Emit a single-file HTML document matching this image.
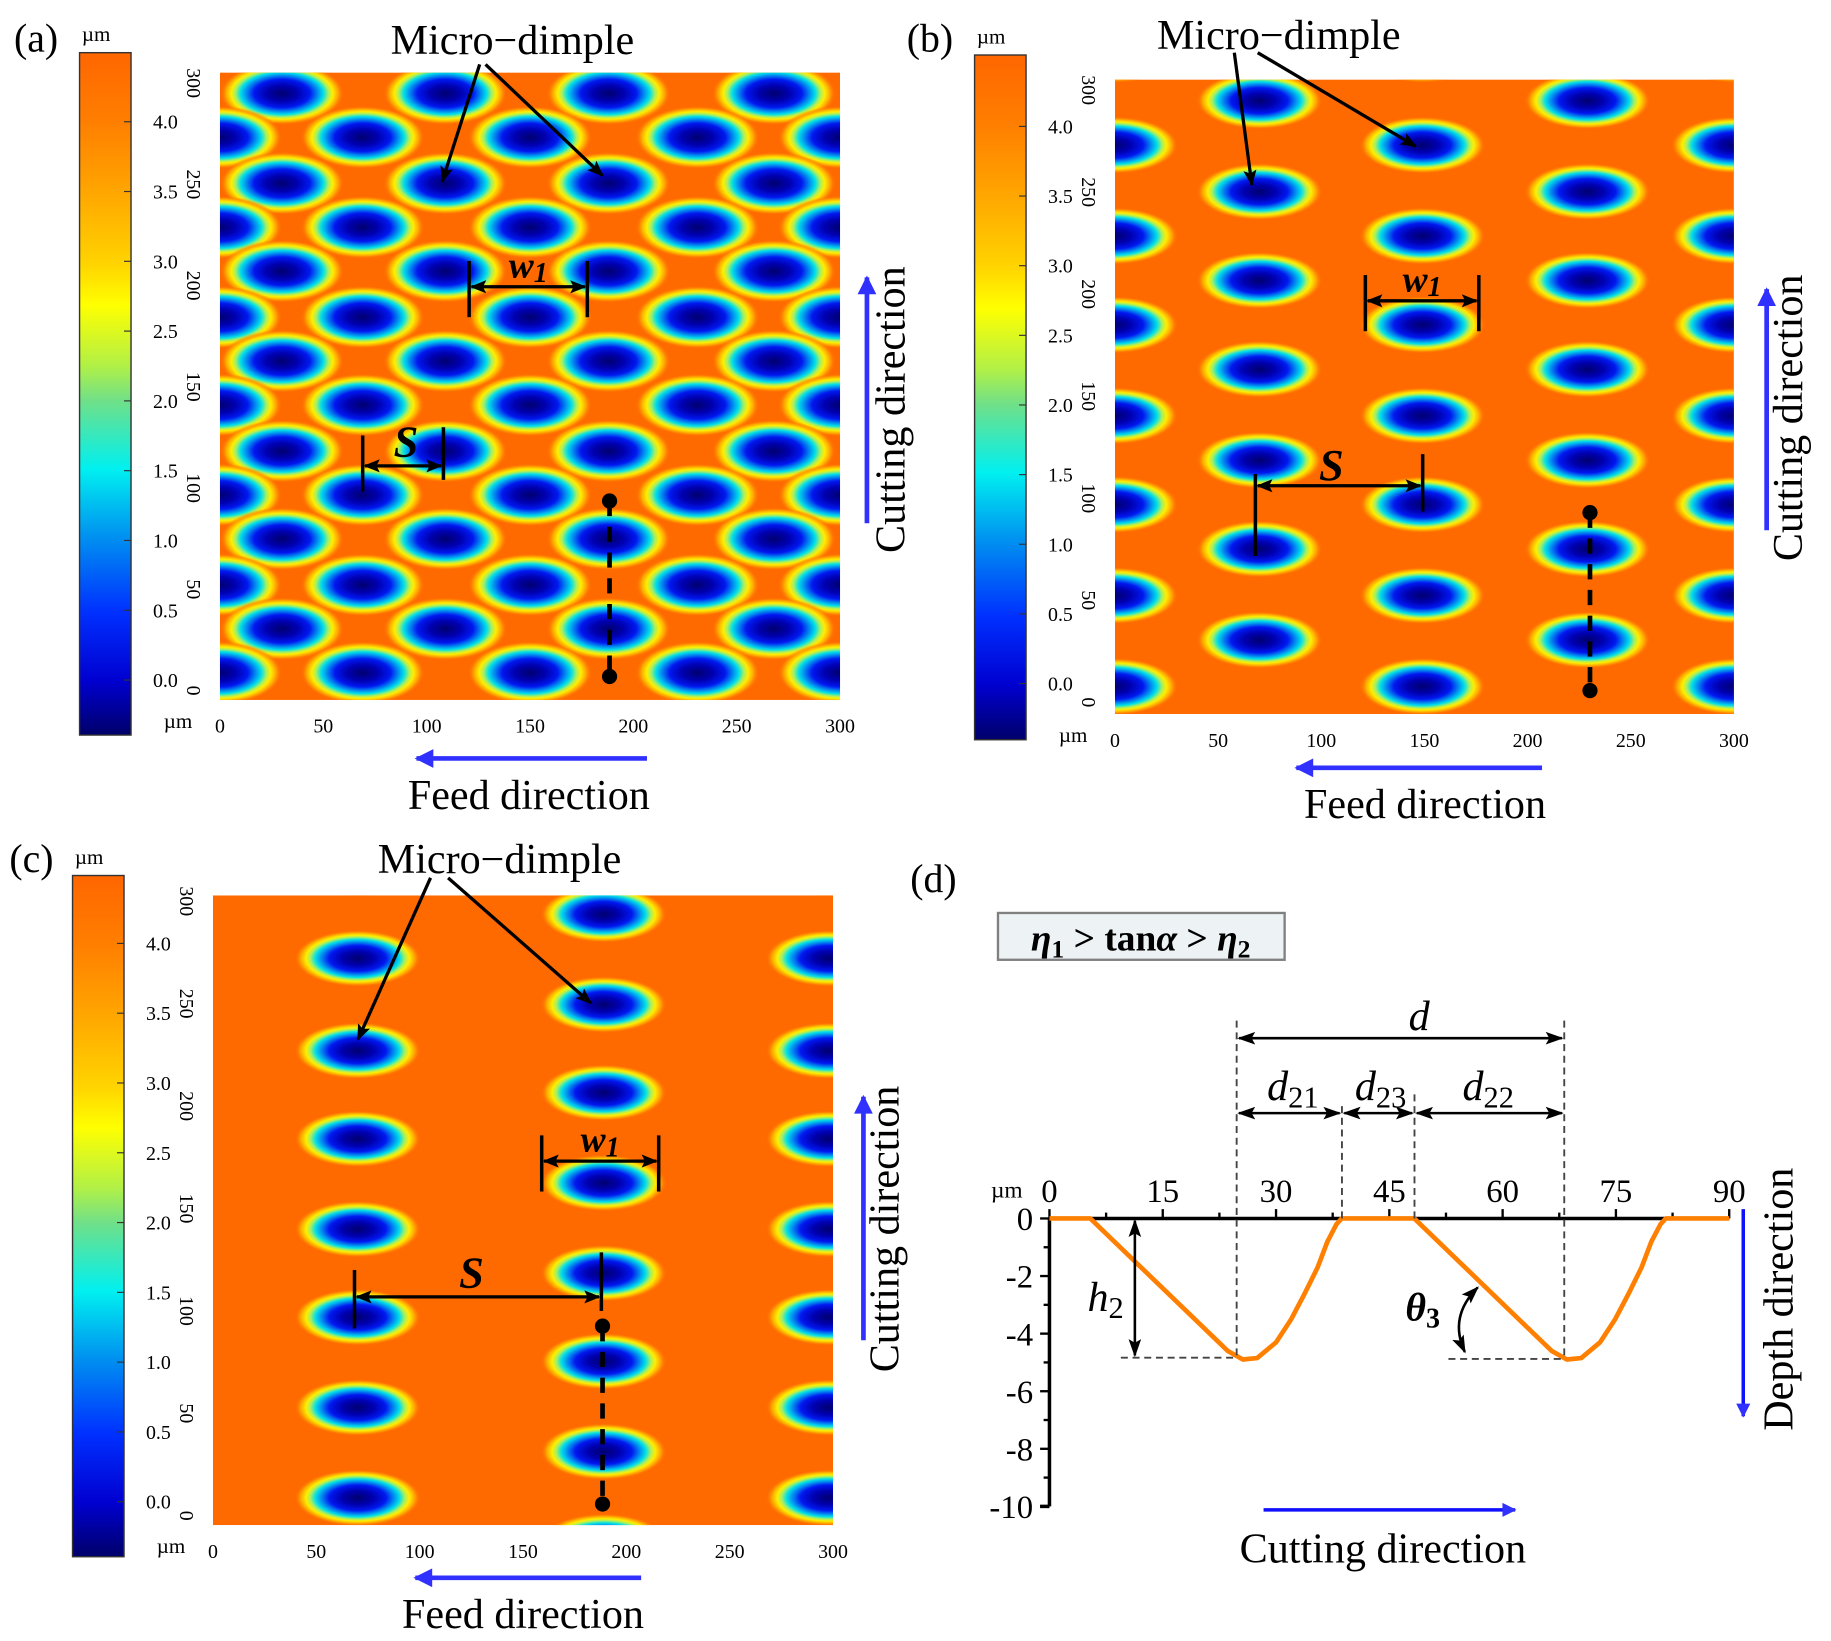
<!DOCTYPE html>
<html><head><meta charset="utf-8"><style>
html,body{margin:0;padding:0;background:#fff;}
svg{display:block;}
text{font-family:"Liberation Serif","Times New Roman",serif;fill:#000;}
</style></head><body>
<svg id="fig" width="1831" height="1641" viewBox="0 0 1565 1402" preserveAspectRatio="none" xmlns="http://www.w3.org/2000/svg" font-family="Liberation Serif, serif">
<defs>
<radialGradient id="dimple">
<stop offset="0" stop-color="#000070"/>
<stop offset="0.25" stop-color="#0000b0"/>
<stop offset="0.45" stop-color="#0018f0"/>
<stop offset="0.58" stop-color="#0090f0"/>
<stop offset="0.67" stop-color="#00e0e8"/>
<stop offset="0.75" stop-color="#a8f060"/>
<stop offset="0.82" stop-color="#ffee00"/>
<stop offset="0.91" stop-color="#ffa000"/>
<stop offset="1" stop-color="#ff6a00" stop-opacity="0"/>
</radialGradient>
<linearGradient id="cbar" x1="0" y1="0" x2="0" y2="1">
<stop offset="0" stop-color="#ff6600"/>
<stop offset="0.10" stop-color="#ff7e00"/>
<stop offset="0.20" stop-color="#ffa400"/>
<stop offset="0.31" stop-color="#ffd400"/>
<stop offset="0.37" stop-color="#ffff00"/>
<stop offset="0.46" stop-color="#b0f048"/>
<stop offset="0.51" stop-color="#70e088"/>
<stop offset="0.61" stop-color="#00f0f0"/>
<stop offset="0.71" stop-color="#0090f0"/>
<stop offset="0.82" stop-color="#0030ff"/>
<stop offset="0.92" stop-color="#0000d0"/>
<stop offset="1" stop-color="#00006a"/>
</linearGradient>
<marker id="ah" viewBox="0 0 10 10" refX="9" refY="5" markerWidth="5" markerHeight="5" orient="auto-start-reverse"><path d="M0,1 L10,5 L0,9 L2,5z" fill="#000"/></marker>
<marker id="ahs" viewBox="0 0 10 10" refX="9" refY="5" markerWidth="7" markerHeight="7" orient="auto-start-reverse"><path d="M0,1.5 L10,5 L0,8.5 L2,5z" fill="#000"/></marker>
<marker id="bh" viewBox="0 0 10 10" refX="9" refY="5" markerWidth="5" markerHeight="4" orient="auto"><path d="M0,0 L10,5 L0,10z" fill="#3030ff"/></marker>
<clipPath id="clipA"><rect x="188" y="62" width="530" height="536"/></clipPath>
<clipPath id="clipB"><rect x="953" y="68" width="529" height="542"/></clipPath>
<clipPath id="clipC"><rect x="182" y="765" width="530" height="538"/></clipPath>
</defs>
<g id="root"></g>
</svg>
<script>
// Panel (a) dimple layout (µm)
const aColsOdd = [30, 109, 188, 268];
const aColsEven = [0, 69, 150, 231, 300];
const aRows = [290, 269, 247, 226, 205, 183, 162, 141, 119, 98, 77, 55, 34, 13];
// Panel (b)
const bColsA = [70, 229];
const bRowsA = [290, 247, 205, 163, 120, 78, 35];
const bColsB = [0, 149, 300];
const bRowsB = [312, 269, 226, 184, 141, 99, 56, 13];
// Panel (c)
const cColsA = [70, 298];
const cRowsA = [313, 270, 226, 184, 141, 99, 56, 13];
const cColsB = [189];
const cRowsB = [291, 248, 206, 163, 120, 78, 35, -8];
// Axis tick labels
const xTicks = [0, 50, 100, 150, 200, 250, 300];
const yTicks = [0, 50, 100, 150, 200, 250, 300];
const cbTicks = [0.0, 0.5, 1.0, 1.5, 2.0, 2.5, 3.0, 3.5, 4.0];
// Panel (d) profile
const profX = [0, 5.4, 23.6, 25.6, 27.5, 30, 32, 33.7, 35.5, 36.8, 38, 38.7, 48.3, 66.5, 68.5, 70.4, 72.9, 74.9, 76.6, 78.4, 79.7, 80.9, 81.6, 90];
const profD = [0, 0, -4.6, -4.9, -4.85, -4.3, -3.5, -2.65, -1.7, -0.8, -0.2, 0, 0, -4.6, -4.9, -4.85, -4.3, -3.5, -2.65, -1.7, -0.8, -0.2, 0, 0];
const dXTicks = [0, 15, 30, 45, 60, 75, 90];
const dYTicks = [0, -2, -4, -6, -8, -10];

const NS = "http://www.w3.org/2000/svg";
const root = document.getElementById('root');
function mk(tag, attrs, parent, txt){
  const e = document.createElementNS(NS, tag);
  for (const k in attrs) e.setAttribute(k, attrs[k]);
  if (tag === 'text') e.setAttribute('font-family', 'Liberation Serif, Times New Roman, serif');
  if (txt !== undefined) e.textContent = txt;
  (parent || root).appendChild(e);
  return e;
}

function panel(P){
  const g = mk('g', {});
  
  
  const sx = v => P.hx + v / 300 * P.hw;
  const sy = v => P.hy + P.hh - v / 300 * P.hh;
  const lab = mk('text', {x: P.lx, y: P.ly, 'font-size': 34}, g, P.letter);
  
  
  const cb = mk('rect', {x: P.cbx, y: P.cby, width: 44, height: P.cbh, fill: 'url(#cbar)', stroke: '#333', 'stroke-width': 1.2}, g);
  
  
  const cv = v => P.cb0 - v / 4.0 * (P.cb0 - P.cb4);
  cbTicks.forEach(v => {
    const y = cv(v);
    mk('line', {x1: P.cbx + 38, x2: P.cbx + 44, y1: y, y2: y, stroke: '#333', 'stroke-width': 1}, g);
    const t = mk('text', {x: P.cbx + 84, y: y + 6, 'font-size': 17, 'text-anchor': 'end'}, g, v.toFixed(1));
    
    
  });
  const u1 = mk('text', {x: P.cbx + 2, y: P.cby - 10, 'font-size': 18}, g, 'µm');
  
  
  const u2 = mk('text', {x: P.hx - 48, y: P.hy + P.hh + 24, 'font-size': 18}, g, 'µm');
  
  
  const hm = mk('g', {'clip-path': 'url(#' + P.clip + ')'}, g);
  
  
  mk('rect', {x: P.hx, y: P.hy, width: P.hw, height: P.hh, fill: '#ff6a00'}, hm);
  P.sets.forEach(s => {
    s.rows.forEach((r, i) => {
      const cols = s.alt ? (i % 2 === 0 ? s.cols : s.cols2) : s.cols;
      cols.forEach(c => {
        const d = mk('ellipse', {cx: sx(c), cy: sy(r), rx: P.rx / 300 * P.hw, ry: P.ry / 300 * P.hh, fill: 'url(#dimple)'}, hm);
        
        
      });
    });
  });
  xTicks.forEach(v => {
    const t = mk('text', {x: sx(v), y: P.hy + P.hh + 28, 'font-size': 17, 'text-anchor': 'middle'}, g, v);
    
    
  });
  yTicks.forEach(v => {
    const y = P.y0 - v / 300 * (P.y0 - P.y300);
    const t = mk('text', {x: 0, y: 0, 'font-size': 17, 'text-anchor': 'middle', transform: 'translate(' + (P.hx - 28) + ',' + y + ') rotate(90)'}, g, v);
    
    
  });
  const md = mk('text', {x: P.mdx, y: P.mdy, 'font-size': 36, 'text-anchor': 'middle'}, g, 'Micro\u2212dimple');
  
  
  P.mdArrows.forEach(a => {
    const l = mk('line', {x1: a[0], y1: a[1], x2: a[2], y2: a[3], stroke: '#000', 'stroke-width': 2.8, 'marker-end': 'url(#ah)'}, g);
    
    
  });
  const W = P.w1;
  mk('line', {x1: W[0], x2: W[0], y1: W[2] - 22, y2: W[2] + 26, stroke: '#000', 'stroke-width': 3}, g);
  mk('line', {x1: W[1], x2: W[1], y1: W[2] - 22, y2: W[2] + 26, stroke: '#000', 'stroke-width': 3}, g);
  const wl = mk('line', {x1: W[0] + 2, x2: W[1] - 2, y1: W[2], y2: W[2], stroke: '#000', 'stroke-width': 2.8, 'marker-start': 'url(#ah)', 'marker-end': 'url(#ah)'}, g);
  
  
  const wt = mk('text', {x: (W[0] + W[1]) / 2, y: W[2] - 8, 'font-size': 32, 'font-weight': 'bold', 'font-style': 'italic', 'text-anchor': 'middle'}, g);
  wt.innerHTML = 'w<tspan font-size="24" dy="4">1</tspan>';
  
  
  const S = P.s;
  mk('line', {x1: S[0], x2: S[0], y1: S[3], y2: S[4], stroke: '#000', 'stroke-width': 3}, g);
  mk('line', {x1: S[1], x2: S[1], y1: S[5], y2: S[6], stroke: '#000', 'stroke-width': 3}, g);
  const sl = mk('line', {x1: S[0] + 2, x2: S[1] - 2, y1: S[2], y2: S[2], stroke: '#000', 'stroke-width': 2.8, 'marker-start': 'url(#ah)', 'marker-end': 'url(#ah)'}, g);
  
  
  const st = mk('text', {x: S[7], y: S[8], 'font-size': 38, 'font-weight': 'bold', 'font-style': 'italic', 'text-anchor': 'middle'}, g, 'S');
  
  
  const D = P.dash;
  const dl = mk('line', {x1: D[0], x2: D[0], y1: D[1], y2: D[2], stroke: '#000', 'stroke-width': 4, 'stroke-dasharray': '13,9'}, g);
  
  
  mk('circle', {cx: D[0], cy: D[1], r: 6.5, fill: '#000'}, g);
  mk('circle', {cx: D[0], cy: D[2], r: 6.5, fill: '#000'}, g);
  const C = P.cut;
  const ca = mk('line', {x1: C[0], x2: C[0], y1: C[1], y2: C[2], stroke: '#3030ff', 'stroke-width': 4, 'marker-end': 'url(#bh)'}, g);
  
  
  const ct = mk('text', {x: 0, y: 0, 'font-size': 36, 'text-anchor': 'middle', transform: 'translate(' + C[3] + ',' + C[4] + ') rotate(-90)'}, g, 'Cutting direction');
  
  
  const F = P.feed;
  const fa = mk('line', {x1: F[0], x2: F[1], y1: F[2], y2: F[2], stroke: '#3030ff', 'stroke-width': 4, 'marker-end': 'url(#bh)'}, g);
  
  
  const ft = mk('text', {x: F[3], y: F[4], 'font-size': 36, 'text-anchor': 'middle'}, g, 'Feed direction');
  
  
}

panel({name: 'panel-a', letter: '(a)', lx: 12, ly: 44, cbx: 68, cby: 45, cbh: 583, cb0: 581, cb4: 104,
  hx: 188, hy: 62, hw: 530, hh: 536, clip: 'clipA', y0: 590, y300: 71, rx: 30, ry: 15,
  sets: [{alt: true, rows: aRows, cols: aColsOdd, cols2: aColsEven}],
  mdx: 438, mdy: 46, mdArrows: [[410, 55, 378, 155], [415, 55, 515, 150]],
  w1: [401, 502, 245], s: [310, 379, 398, 372, 420, 365, 410, 347, 390],
  dash: [521, 428, 578], cut: [741, 447, 237, 773, 350], feed: [553, 356, 648, 452, 691]});
panel({name: 'panel-b', letter: '(b)', lx: 775, ly: 44, cbx: 833, cby: 47, cbh: 585, cb0: 584, cb4: 108,
  hx: 953, hy: 68, hw: 529, hh: 542, clip: 'clipB', y0: 600, y300: 77, rx: 30.5, ry: 13.5,
  sets: [{rows: bRowsA, cols: bColsA}, {rows: bRowsB, cols: bColsB}],
  mdx: 1093, mdy: 42, mdArrows: [[1055, 45, 1070, 158], [1075, 45, 1210, 125]],
  w1: [1167, 1264, 257], s: [1073, 1216, 415, 405, 475, 388, 437, 1138, 410],
  dash: [1359, 438, 590], cut: [1510, 453, 247, 1540, 357], feed: [1318, 1108, 656, 1218, 699]});
panel({name: 'panel-c', letter: '(c)', lx: 8, ly: 745, cbx: 62, cby: 748, cbh: 582, cb0: 1283, cb4: 806,
  hx: 182, hy: 765, hw: 530, hh: 538, clip: 'clipC', y0: 1295, y300: 770, rx: 30.5, ry: 13.5,
  sets: [{rows: cRowsA, cols: cColsA}, {rows: cRowsB, cols: cColsB}],
  mdx: 427, mdy: 746, mdArrows: [[368, 750, 306, 888], [383, 750, 505, 857]],
  w1: [463, 563, 992], s: [303, 514, 1108, 1085, 1135, 1070, 1120, 403, 1100],
  dash: [515, 1133, 1285], cut: [738, 1145, 937, 768, 1050], feed: [548, 355, 1348, 447, 1391]});

(function(){
  const g = mk('g', {});
  
  
  const X0 = 897, XS = (1478 - 897) / 90, Y0 = 1041, YS = (1287 - 1041) / 10;
  const px = v => X0 + v * XS, py = v => Y0 - v * YS;
  const lab = mk('text', {x: 778, y: 762, 'font-size': 34}, g, '(d)');
  
  
  const box = mk('rect', {x: 853, y: 780, width: 245, height: 40, fill: '#edf3f5', stroke: '#808080', 'stroke-width': 2}, g);
  
  
  const bt = mk('text', {x: 975, y: 812, 'font-size': 32, 'font-weight': 'bold', 'text-anchor': 'middle'}, g);
  bt.innerHTML = '<tspan font-style="italic">η</tspan><tspan font-size="22" dy="6">1</tspan><tspan dy="-6"> &gt; tan</tspan><tspan font-style="italic">α</tspan><tspan> &gt; </tspan><tspan font-style="italic">η</tspan><tspan font-size="22" dy="6">2</tspan>';
  
  
  const xa = mk('line', {x1: X0, x2: px(90), y1: Y0, y2: Y0, stroke: '#000', 'stroke-width': 3}, g);
  
  
  const ya = mk('line', {x1: X0, x2: X0, y1: Y0, y2: py(-10), stroke: '#000', 'stroke-width': 3}, g);
  
  
  mk('line', {x1: X0 - 8, x2: X0, y1: py(-10), y2: py(-10), stroke: '#000', 'stroke-width': 3}, g);
  for (let v = 0; v <= 90; v += 7.5) mk('line', {x1: px(v), x2: px(v), y1: Y0, y2: Y0 - (v % 15 === 0 ? 8 : 5), stroke: '#000', 'stroke-width': 2}, g);
  for (let v = 0; v >= -10; v -= 1) mk('line', {x1: X0, x2: X0 - (v % 2 === 0 ? 8 : 5), y1: py(v), y2: py(v), stroke: '#000', 'stroke-width': 2}, g);
  dXTicks.forEach(v => {
    const t = mk('text', {x: px(v), y: 1027, 'font-size': 28, 'text-anchor': 'middle'}, g, v);
    
    
  });
  dYTicks.forEach(v => {
    const t = mk('text', {x: 883, y: py(v) + 10, 'font-size': 28, 'text-anchor': 'end'}, g, v);
    
    
  });
  const um = mk('text', {x: 847, y: 1023, 'font-size': 20}, g, 'µm');
  
  
  let dstr = '';
  profX.forEach((v, i) => { dstr += (i ? 'L' : 'M') + px(v).toFixed(1) + ',' + py(profD[i]).toFixed(1); });
  const pl = mk('path', {d: dstr, fill: 'none', stroke: '#ff8000', 'stroke-width': 4, 'stroke-linejoin': 'round'}, g);
  
  
  [[1057, 872, 1160], [1147, 945, 1041], [1209, 935, 1041], [1337, 872, 1160]].forEach(a => {
    mk('line', {x1: a[0], x2: a[0], y1: a[1], y2: a[2], stroke: '#444', 'stroke-width': 1.6, 'stroke-dasharray': '6,4'}, g);
  });
  mk('line', {x1: 958, x2: 1057, y1: 1160, y2: 1160, stroke: '#444', 'stroke-width': 1.6, 'stroke-dasharray': '6,4'}, g);
  mk('line', {x1: 1238, x2: 1337, y1: 1161, y2: 1161, stroke: '#444', 'stroke-width': 1.6, 'stroke-dasharray': '6,4'}, g);
  const dims = [[1059, 1335, 887, 'd', '', 1213, 880], [1059, 1145, 951, 'd', '21', 1105, 940], [1149, 1207, 951, 'd', '23', 1180, 940], [1211, 1335, 951, 'd', '22', 1272, 940]];
  dims.forEach(a => {
    const l = mk('line', {x1: a[0], x2: a[1], y1: a[2], y2: a[2], stroke: '#000', 'stroke-width': 2.2, 'marker-start': 'url(#ahs)', 'marker-end': 'url(#ahs)'}, g);
    
    
    const t = mk('text', {x: a[5], y: a[6], 'font-size': 36, 'font-style': 'italic', 'text-anchor': 'middle'}, g);
    t.innerHTML = a[3] + (a[4] ? '<tspan font-style="normal" font-size="26" dy="6">' + a[4] + '</tspan>' : '');
    
    
  });
  const h = mk('line', {x1: 970, x2: 970, y1: 1043, y2: 1158, stroke: '#000', 'stroke-width': 2.2, 'marker-start': 'url(#ahs)', 'marker-end': 'url(#ahs)'}, g);
  
  
  const ht = mk('text', {x: 945, y: 1120, 'font-size': 36, 'font-style': 'italic', 'text-anchor': 'middle'}, g);
  ht.innerHTML = 'h<tspan font-style="normal" font-size="26" dy="6">2</tspan>';
  
  
  const th = mk('path', {d: 'M1263,1100 Q1238,1125 1252,1155', fill: 'none', stroke: '#000', 'stroke-width': 2.2, 'marker-start': 'url(#ahs)', 'marker-end': 'url(#ahs)'}, g);
  
  
  const tt = mk('text', {x: 1216, y: 1128, 'font-size': 34, 'font-weight': 'bold', 'font-style': 'italic', 'text-anchor': 'middle'}, g);
  tt.innerHTML = 'θ<tspan font-style="normal" font-size="24" dy="6">3</tspan>';
  
  
  const ca = mk('line', {x1: 1080, x2: 1295, y1: 1290, y2: 1290, stroke: '#1010ff', 'stroke-width': 3, 'marker-end': 'url(#bh)'}, g);
  
  
  const ct = mk('text', {x: 1182, y: 1335, 'font-size': 36, 'text-anchor': 'middle'}, g, 'Cutting direction');
  
  
  const da = mk('line', {x1: 1490, x2: 1490, y1: 1033, y2: 1210, stroke: '#1010ff', 'stroke-width': 3, 'marker-end': 'url(#bh)'}, g);
  
  
  const dt = mk('text', {x: 0, y: 0, 'font-size': 36, 'text-anchor': 'middle', transform: 'translate(1532,1110) rotate(-90)'}, g, 'Depth direction');
  
  
})();
</script>
</body></html>
